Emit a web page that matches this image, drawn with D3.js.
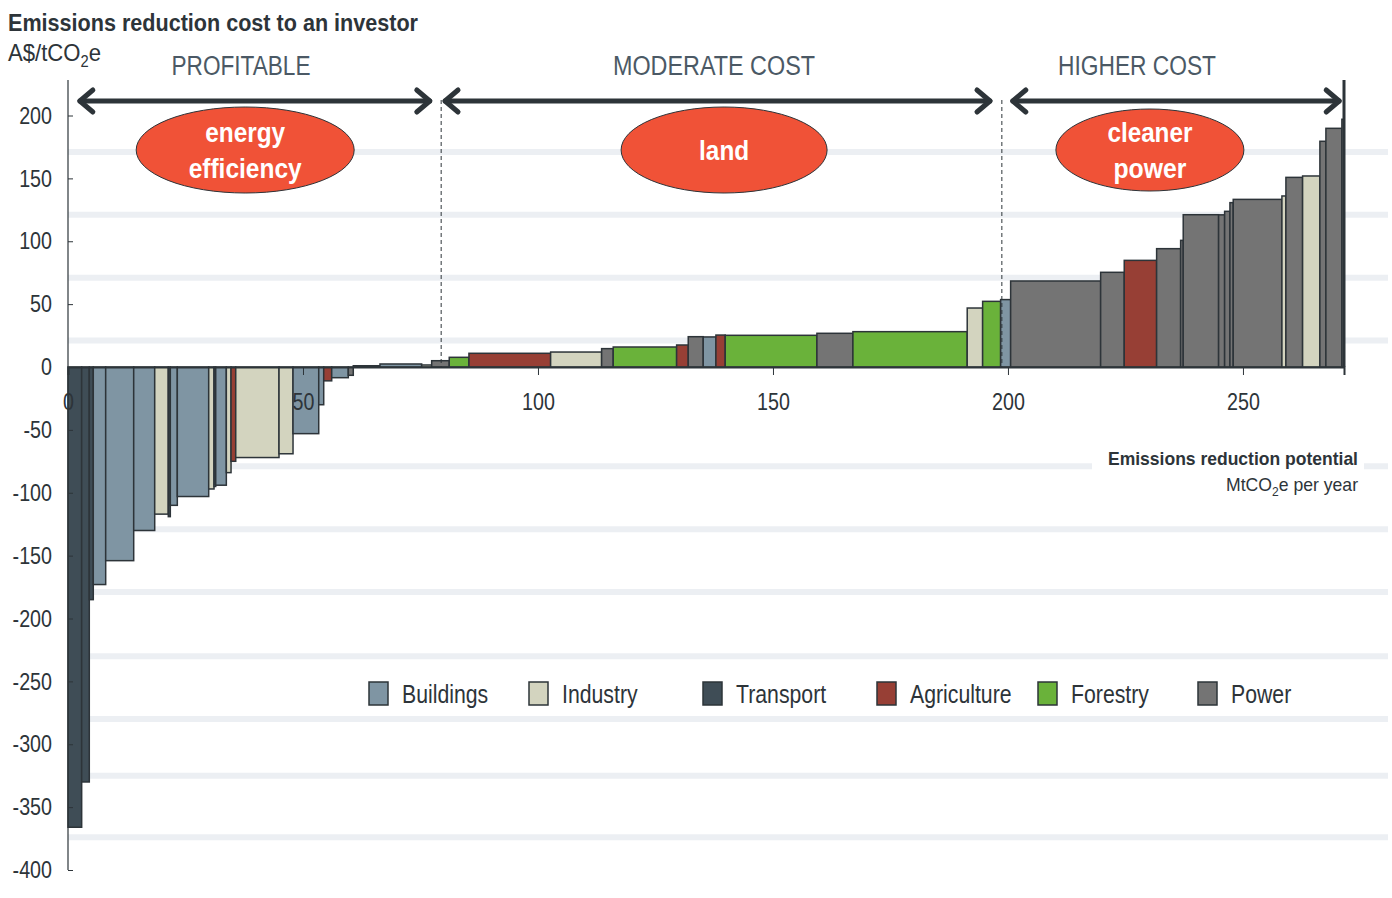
<!DOCTYPE html>
<html>
<head>
<meta charset="utf-8">
<script src="https://cdn.jsdelivr.net/npm/d3@7"></script>
<style>
  body { margin: 0; background: #fff; }
  svg { font-family: "Liberation Sans Narrow", "Arial Narrow", "Liberation Sans", Arial, sans-serif; }
</style>
</head>
<body>
<div id="chart"></div>
<script>
// abatement options, left to right: sector, potential (MtCO2e/yr), cost (A$/tCO2e)
const sectors = ["Transport","Transport","Transport","Buildings","Buildings","Buildings","Industry","Transport","Buildings","Buildings","Industry","Transport","Buildings","Industry","Agriculture","Industry","Industry","Buildings","Buildings","Agriculture","Buildings","Power",
  "Transport","Buildings","Industry","Power","Forestry","Agriculture","Industry","Power","Forestry","Agriculture","Power","Buildings","Agriculture","Forestry","Power","Forestry","Industry","Forestry","Buildings",
  "Power","Power","Agriculture","Power","Power","Power","Power","Power","Power","Power","Industry","Power","Industry","Power","Power","Power"];
const potential = [2.91,1.62,0.85,2.64,5.96,4.47,2.89,0.43,1.49,6.68,1.13,0.36,2.26,1.0,1.0,9.21,2.98,5.47,1.06,1.7,3.53,1.06,
  5.68,8.87,2.13,3.74,4.19,17.38,10.85,2.47,13.49,2.47,3.19,2.7,1.98,19.51,7.66,24.32,3.28,3.83,2.13,
  19.15,5.02,6.89,5.11,0.55,7.53,1.28,1.13,0.7,10.36,0.85,3.55,3.68,1.28,3.4,0.43];
const cost = [-366,-330,-185,-173,-154,-130,-117,-119,-110,-103,-97,-95,-94,-84,-75,-72,-69,-53,-30,-11,-8.5,-6.6,
  1,2.4,1.6,5,7.7,10.9,11.9,14.6,15.9,17.5,24.1,23.9,25.4,25.2,26.8,28.1,46.9,52.2,53.6,
  68.4,75.3,84.8,94.1,100.7,121.1,121,123.8,130.7,133.3,136,150.8,151.9,179.5,189.8,197];

const legendNames = ["Buildings","Industry","Transport","Agriculture","Forestry","Power"];
const legendColors = ["#7f95a3","#d3d4bf","#3f4d56","#973f35","#6ab23a","#747474"];

const xTicks = [0,50,100,150,200,250];
const yTicks = [200,150,100,50,0,-50,-100,-150,-200,-250,-300,-350,-400];
const gridValues = [171,121,71,21,-79,-129,-179,-230,-280,-325,-374];

const bands = ["PROFITABLE","MODERATE COST","HIGHER COST"];
const bandStart = [2.1,79.8,200.6];
const bandEnd = [77.4,196.6,270.9];
const dividers = [79.4,198.7];
const bubbleLines = [["energy","efficiency"],["land"],["cleaner","power"]];
const bubbleX = [37.7,139.6,230.2];

const W = 1392, H = 898, dark = "#2d3439";
const svg = d3.select("#chart").append("svg").attr("width", W).attr("height", H);

// squeeze text to a narrow look (no condensed font installed)
function fit(sel, w) {
  sel.attr("lengthAdjust", "spacingAndGlyphs").attr("textLength", w);
}
function narrow(sel, k) {
  sel.each(function () {
    d3.select(this).attr("lengthAdjust", "spacingAndGlyphs")
      .attr("textLength", this.getComputedTextLength() * k);
  });
}

const x = d3.scaleLinear().domain([0, 271.5]).range([68, 1344]);
const y = d3.scaleLinear().domain([-400, 200]).range([870, 115.5]);
const color = d3.scaleOrdinal().domain(legendNames).range(legendColors);

// light grid bands
svg.append("g").selectAll("line").data(gridValues).join("line")
  .attr("x1", x(0)).attr("x2", 1388)
  .attr("y1", d => y(d)).attr("y2", d => y(d))
  .attr("stroke", "#eceff3").attr("stroke-width", 6);

// label for x axis, white box hides the band
svg.append("rect").attr("x", 1092).attr("y", 446).attr("width", 272).attr("height", 50).attr("fill", "#fff");
svg.append("text").attr("x", 1358).attr("y", 465).attr("text-anchor", "end")
  .attr("font-size", 19).attr("font-weight", "bold").attr("fill", dark)
  .text("Emissions reduction potential").call(fit, 250);
const unit = svg.append("text").attr("x", 1358).attr("y", 491).attr("text-anchor", "end")
  .attr("font-size", 19).attr("fill", dark);
unit.append("tspan").text("MtCO");
unit.append("tspan").attr("font-size", 13).attr("dy", 5).text("2");
unit.append("tspan").attr("dy", -5).text("e per year");
unit.call(fit, 132);

// bars
const starts = d3.cumsum([0, ...potential.slice(0, -1)]);
svg.append("g").selectAll("rect").data(cost).join("rect")
  .attr("x", (d, i) => x(starts[i]))
  .attr("width", (d, i) => x(starts[i] + potential[i]) - x(starts[i]))
  .attr("y", d => y(Math.max(0, d)))
  .attr("height", d => Math.abs(y(d) - y(0)))
  .attr("fill", (d, i) => color(sectors[i]))
  .attr("stroke", dark).attr("stroke-width", 1.5);

// axes
const yAxis = svg.append("g").attr("transform", `translate(${x(0)},0)`)
  .call(d3.axisLeft(y).tickValues(yTicks).tickSize(-5).tickPadding(16).tickFormat(d => String(d)));
yAxis.select(".domain").remove();
yAxis.selectAll("line").attr("stroke", dark);
yAxis.selectAll("text").attr("font-size", 24).attr("fill", dark).attr("font-family", null).call(narrow, 0.82);
svg.append("line").attr("x1", x(0)).attr("x2", x(0)).attr("y1", 80).attr("y2", y(-400))
  .attr("stroke", dark).attr("stroke-width", 1.2);

const xAxis = svg.append("g").attr("transform", `translate(0,${y(0)})`)
  .call(d3.axisBottom(x).tickValues(xTicks).tickSize(8).tickPadding(18).tickFormat(d => String(d)));
xAxis.select(".domain").attr("stroke", dark).attr("stroke-width", 2);
xAxis.selectAll("line").attr("stroke", dark);
xAxis.selectAll("text").attr("font-size", 24).attr("fill", dark).attr("font-family", null).call(narrow, 0.82);

svg.append("line").attr("x1", x(271.5)).attr("x2", x(271.5)).attr("y1", 80).attr("y2", y(0))
  .attr("stroke", dark).attr("stroke-width", 3);

// dashed dividers
svg.append("g").selectAll("line").data(dividers).join("line")
  .attr("x1", d => x(d)).attr("x2", d => x(d))
  .attr("y1", 100).attr("y2", y(0))
  .attr("stroke", dark).attr("stroke-width", 1).attr("stroke-dasharray", "4,3");

// range arrows
const arrowY = 101;
const bandLabelX = [241, 714, 1137], bandLabelW = [139, 202, 158];
const arrows = svg.append("g").attr("stroke", dark).attr("stroke-width", 5)
  .attr("fill", "none").attr("stroke-linecap", "round").attr("stroke-linejoin", "round");
bands.forEach((b, i) => {
  const a = x(bandStart[i]), e = x(bandEnd[i]);
  arrows.append("line").attr("x1", a + 2).attr("x2", e - 2).attr("y1", arrowY).attr("y2", arrowY);
  arrows.append("path").attr("d", `M${a + 15},${arrowY - 11}L${a + 2},${arrowY}L${a + 15},${arrowY + 11}`);
  arrows.append("path").attr("d", `M${e - 15},${arrowY - 11}L${e - 2},${arrowY}L${e - 15},${arrowY + 11}`);
  svg.append("text").attr("x", bandLabelX[i]).attr("y", 75).attr("text-anchor", "middle")
    .attr("font-size", 27).attr("fill", "#4b5965").text(b).call(fit, bandLabelW[i]);
});

// bubbles
const rx = [109, 103, 94], ry = [43, 43, 41];
const bubbleW = [[80, 113], [50], [85, 73]];
bubbleLines.forEach((lines, i) => {
  const cx = x(bubbleX[i]), cy = 150;
  svg.append("ellipse").attr("cx", cx).attr("cy", cy).attr("rx", rx[i]).attr("ry", ry[i])
    .attr("fill", "#f05237").attr("stroke", dark).attr("stroke-width", 1);
  lines.forEach((t, j) => {
    svg.append("text").attr("x", cx).attr("y", cy + 10 + (j - (lines.length - 1) / 2) * 36)
      .attr("text-anchor", "middle").attr("font-size", 28).attr("font-weight", "bold")
      .attr("fill", "#fff").text(t).call(fit, bubbleW[i][j]);
  });
});

// legend
const legendX = [369, 529, 703, 877, 1038, 1198];
const lg = svg.append("g").selectAll("g").data(legendNames).join("g")
  .attr("transform", (d, i) => `translate(${legendX[i]},682)`);
lg.append("rect").attr("width", 19).attr("height", 23)
  .attr("fill", d => color(d)).attr("stroke", dark).attr("stroke-width", 1.5);
lg.append("text").attr("x", 33).attr("y", 21).attr("font-size", 25).attr("fill", dark).text(d => d)
  .call(narrow, 0.85);

// titles
svg.append("text").attr("x", 8).attr("y", 31).attr("font-size", 23).attr("font-weight", "bold")
  .attr("fill", dark).text("Emissions reduction cost to an investor").call(fit, 410);
const yl = svg.append("text").attr("x", 8).attr("y", 61).attr("font-size", 24).attr("fill", dark);
yl.append("tspan").text("A$/tCO");
yl.append("tspan").attr("font-size", 16).attr("dy", 6).text("2");
yl.append("tspan").attr("dy", -6).text("e");
yl.call(fit, 93);
</script>
</body>
</html>
